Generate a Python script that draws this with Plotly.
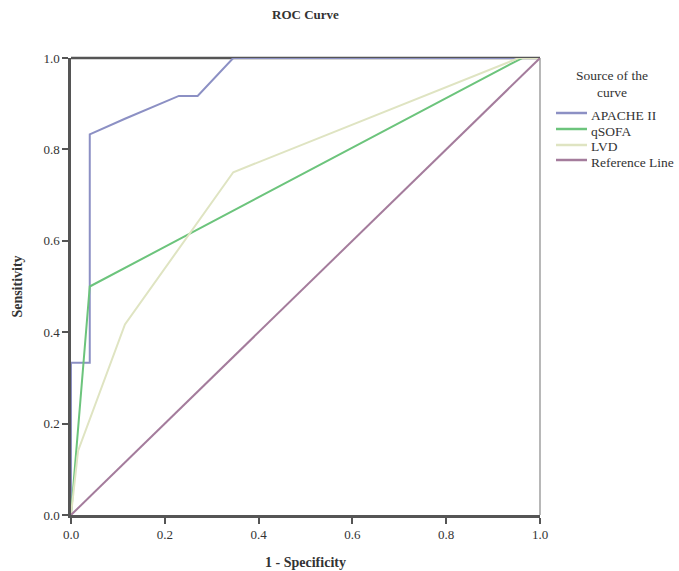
import plotly.graph_objects as go

apache_x = [0.0, 0.0, 0.04, 0.04, 0.115, 0.19, 0.23, 0.27, 0.346, 1.0]
apache_y = [0.0, 0.333, 0.333, 0.833, 0.867, 0.9, 0.917, 0.917, 1.0, 1.0]
qsofa_x = [0.0, 0.04, 0.962, 1.0]
qsofa_y = [0.0, 0.5, 1.0, 1.0]
lvd_x = [0.0, 0.015, 0.115, 0.346, 0.955, 1.0]
lvd_y = [0.0, 0.14, 0.417, 0.75, 1.0, 1.0]
ref_x = [0.0, 1.0]
ref_y = [0.0, 1.0]
tick_vals = [0.0, 0.2, 0.4, 0.6, 0.8, 1.0]
tick_text = ["0.0", "0.2", "0.4", "0.6", "0.8", "1.0"]
series_names = ["APACHE II", "qSOFA", "LVD", "Reference Line"]
series_colors = ["#8c90c4", "#6cc47c", "#dfe4c2", "#a47c9c"]

FONT = "Liberation Serif"
W, H = 679, 571
L, R, T, B = 71, 139, 58, 56
pw, ph = W - L - R, H - T - B

def px_x(px):
    return (px - L) / pw

def px_y(py):
    return (H - B - py) / ph

fig = go.Figure()
for xs, ys, name, col in zip([apache_x, qsofa_x, lvd_x, ref_x],
                             [apache_y, qsofa_y, lvd_y, ref_y],
                             series_names, series_colors):
    fig.add_trace(go.Scatter(x=xs, y=ys, mode="lines", name=name,
                             line=dict(color=col, width=2), showlegend=False))

# frame lines: top dark, right thin
fig.add_shape(type="line", xref="paper", yref="paper", x0=0, x1=1, y0=1, y1=1,
              line=dict(color="#555555", width=2.5), layer="below")
fig.add_shape(type="line", xref="paper", yref="paper", x0=1, x1=1, y0=0, y1=1,
              line=dict(color="#888888", width=1.2), layer="below")

LEG_SIZE = 13.5
annotations = []
# legend title
annotations.append(dict(text="Source of the", x=px_x(612), y=px_y(76), xref="paper", yref="paper",
                        showarrow=False, xanchor="center", yanchor="middle",
                        font=dict(family=FONT, size=LEG_SIZE, color="#333333")))
annotations.append(dict(text="curve", x=px_x(612), y=px_y(92), xref="paper", yref="paper",
                        showarrow=False, xanchor="center", yanchor="middle",
                        font=dict(family=FONT, size=LEG_SIZE, color="#333333")))
row_y = [115, 131, 147, 162]
for name, col, ry in zip(series_names, series_colors, row_y):
    fig.add_shape(type="line", xref="paper", yref="paper",
                  x0=px_x(556), x1=px_x(587), y0=px_y(ry - 2), y1=px_y(ry - 2),
                  line=dict(color=col, width=2.5))
    annotations.append(dict(text=name, x=px_x(589), y=px_y(ry), xref="paper", yref="paper",
                            showarrow=False, xanchor="left", yanchor="middle",
                            font=dict(family=FONT, size=LEG_SIZE, color="#333333")))

fig.update_layout(
    width=W, height=H,
    margin=dict(l=L, r=R, t=T, b=B, autoexpand=False),
    paper_bgcolor="white", plot_bgcolor="white",
    font=dict(family=FONT, size=13, color="#333333"),
    title=dict(text="<b>ROC Curve</b>", x=0.5, xref="paper", xanchor="center",
               y=1 - 14 / H, yanchor="middle", font=dict(size=13, family=FONT, color="#333333")),
    showlegend=False,
    annotations=annotations,
    xaxis=dict(range=[0, 1], tickvals=tick_vals, ticktext=tick_text,
               showgrid=False, zeroline=False, showline=True, linecolor="#555555",
               linewidth=2.5, ticks="outside", ticklen=6, tickwidth=2, tickcolor="#555555",
               tickfont=dict(size=13),
               title=dict(text="<b>1 - Specificity</b>", font=dict(size=14, family=FONT), standoff=16),
               fixedrange=True, automargin=False),
    yaxis=dict(range=[0, 1], tickvals=tick_vals, ticktext=tick_text,
               showgrid=False, zeroline=False, showline=True, linecolor="#555555",
               linewidth=2.5, ticks="outside", ticklen=6, tickwidth=2, tickcolor="#555555",
               tickfont=dict(size=13),
               title=dict(text="<b>Sensitivity</b>", font=dict(size=14, family=FONT), standoff=18),
               fixedrange=True, automargin=False),
)
fig.write_html("out.html")
